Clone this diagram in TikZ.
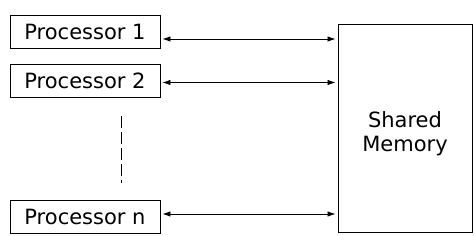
\documentclass[tikz,border=0pt]{standalone}
\usepackage{fontspec}
\setmainfont{DejaVu Sans}
\usepackage{tikz}
\usetikzlibrary{arrows.meta}

\begin{document}
\begin{tikzpicture}[x=1pt,y=-1pt,
  procbox/.style={draw,line width=0.9pt,minimum width=150pt,minimum height=33pt,inner sep=0pt,font=\fontsize{21}{24}\selectfont},
  link/.style={line width=0.8pt,{Latex[length=8pt,width=5.5pt]}-{Latex[length=8pt,width=5.5pt]},shorten <=2pt,shorten >=2pt}]
  \useasboundingbox (0,0) rectangle (475,236);
  \node[procbox] (p1) at (85,32) {Processor 1};
  \node[procbox] (p2) at (85,81) {Processor 2};
  \node[procbox] (pn) at (85,216.5) {Processor n};
  \node[draw,line width=0.9pt,minimum width=134pt,minimum height=208pt,inner sep=0pt] (mem) at (405,128) {};
  \node[align=center,font=\fontsize{21}{24}\selectfont] (memtext) at ([yshift=-6pt]mem.center) {Shared\\Memory};
  \coordinate (a1) at ([yshift=-7pt]p1.east);
  \coordinate (a2) at ([yshift=-1.5pt]p2.east);
  \coordinate (an) at ([yshift=2.5pt]pn.east);
  \foreach \a in {a1,a2,an} {
    \draw[link] (\a) -- (\a -| mem.west);}
  \coordinate (d1) at (121,116);
  \coordinate (d2) at (121,183);
  \draw[line width=0.8pt,dash pattern=on 12pt off 4pt] (d1) -- (d2);
\end{tikzpicture}
\end{document}
